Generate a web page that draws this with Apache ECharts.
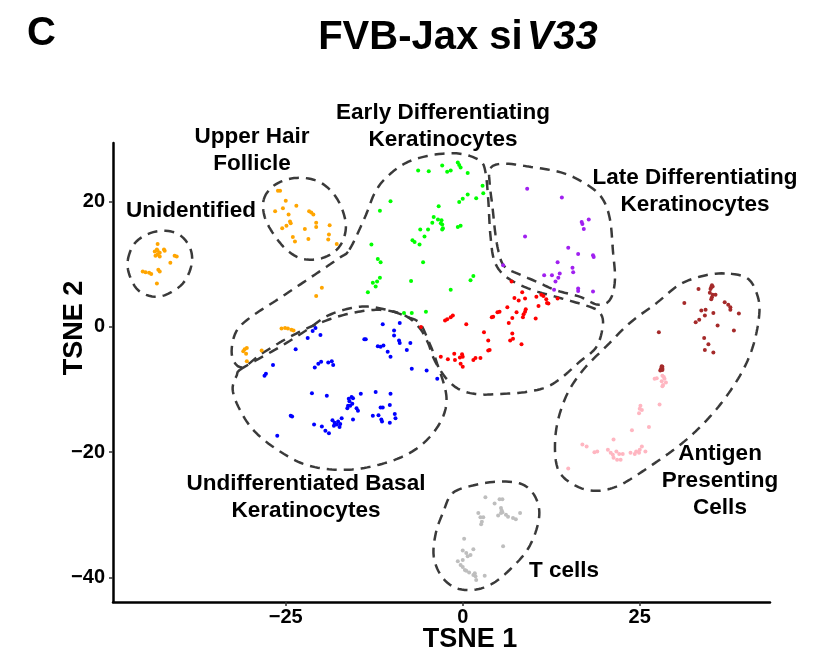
<!DOCTYPE html>
<html>
<head>
<meta charset="utf-8">
<script src="https://cdn.jsdelivr.net/npm/echarts@6/dist/echarts.min.js"></script>
<style>
  html, body { margin: 0; padding: 0; background: #ffffff; }
  #chart { width: 825px; height: 662px; }
</style>
</head>
<body>
<div id="chart"></div>
<script>
// ---- axis ticks ----
const xTicks = [-25, 0, 25];
const yTicks = [-40, -20, 0, 20];

// ---- cell embeddings (TSNE 1, TSNE 2) per cluster ----
const unidentified = [
  [-43.1, 13.2], [-43.2, 12.3], [-43.5, 12.0], [-43.1, 12.1], [-42.8, 11.8], [-42.2, 12.3],
  [-42.1, 12.1], [-43.4, 11.3], [-43.1, 11.5], [-42.8, 11.2], [-40.7, 11.3], [-40.4, 11.2],
  [-41.3, 10.2], [-45.2, 8.8], [-44.8, 8.7], [-44.3, 8.6], [-44.0, 8.4], [-43.0, 9.1],
  [-42.8, 8.8], [-43.2, 6.9]
];
const upperHairFollicle = [
  [-26.1, 21.7], [-25.8, 21.7], [-25.0, 20.1], [-25.4, 18.9], [-26.5, 18.4], [-23.5, 19.3],
  [-24.6, 17.9], [-21.7, 18.4], [-21.4, 18.2], [-21.1, 17.9], [-24.4, 16.8], [-24.3, 16.5],
  [-24.9, 16.1], [-25.5, 15.7], [-20.7, 16.6], [-20.7, 15.9], [-22.3, 15.6], [-18.8, 16.2],
  [-24.0, 14.3], [-23.7, 13.6], [-21.8, 14.0], [-18.9, 14.7], [-19.0, 13.9], [-17.8, 13.2],
  [-19.9, 6.2], [-20.7, 4.9],
  [-25.6, -0.3], [-25.1, -0.2], [-24.7, -0.3], [-24.2, -0.5], [-23.9, -0.6],
  [-30.8, -3.6], [-30.5, -3.4], [-31.0, -3.9], [-30.6, -4.3], [-28.4, -3.8], [-30.5, -5.5]
];
const earlyDiff = [
  [-6.3, 24.9], [-4.8, 24.8], [-2.9, 25.7], [-2.2, 24.7], [-1.7, 24.9], [-0.7, 26.2],
  [-0.5, 25.8], [-0.3, 25.4], [0.7, 24.5], [2.8, 22.5], [2.9, 21.3], [1.9, 20.5],
  [0.7, 21.1], [0.0, 20.4], [-0.5, 19.9], [-10.2, 20.0], [-11.7, 18.5], [-3.4, 19.2],
  [-4.1, 17.5], [-3.5, 17.1], [-3.0, 17.0], [-3.1, 16.5], [-2.9, 16.3], [-4.3, 16.6],
  [-2.8, 15.7], [-2.9, 15.5], [-4.9, 15.5], [-6.0, 15.5], [-0.7, 15.9], [-0.3, 16.1],
  [-5.4, 14.4], [-7.1, 13.8], [-6.8, 13.5], [-6.1, 13.1], [-12.9, 13.1], [-12.0, 10.8],
  [-11.6, 10.3], [-5.6, 10.3], [1.5, 8.1], [1.1, 7.4], [-11.7, 7.8], [-12.1, 7.2],
  [-12.7, 7.0], [-12.3, 6.4], [-13.4, 5.5], [-7.3, 7.3], [-1.7, 5.9], [-8.3, 2.2],
  [-7.2, 2.2], [-5.2, 2.4]
];
const lateDiff = [
  [9.1, 22.0], [14.0, 20.6], [16.8, 16.7], [16.9, 16.4], [17.8, 17.1], [17.1, 15.6],
  [8.8, 14.4], [14.9, 12.6], [16.3, 11.6], [18.4, 11.4], [18.5, 11.1], [13.4, 10.3],
  [15.5, 9.4], [15.6, 8.7], [5.7, 9.8], [11.5, 8.2], [12.6, 8.2], [13.7, 8.5],
  [13.5, 7.8], [13.1, 7.2], [16.3, 6.1], [16.3, 5.7], [18.4, 5.6], [12.9, 5.9]
];
const midDiff = [
  [6.9, 7.2], [8.4, 5.5], [7.3, 4.6], [7.9, 4.2], [8.8, 4.5], [10.4, 4.8], [11.1, 5.1],
  [11.4, 4.9], [11.8, 4.4], [11.9, 3.8], [12.1, 3.7], [13.4, 4.5], [10.7, 3.3], [6.3, 3.1],
  [5.2, 2.4], [4.9, 2.3], [4.3, 1.6], [4.1, 1.5], [7.6, 2.3], [8.9, 2.8], [8.8, 2.4],
  [8.6, 2.0], [8.5, 1.5], [7.0, 1.4], [10.3, 1.3], [6.5, 0.6], [-1.4, 1.8], [-1.7, 1.5],
  [-2.2, 1.2], [-2.5, 1.0], [0.5, 0.4], [-5.9, -0.05], [3.0, -0.9], [7.0, -1.1], [7.1, -1.9],
  [6.7, -2.2], [3.6, -2.2], [8.3, -2.8], [3.8, -3.7], [3.6, -3.8], [-3.1, -4.8], [-2.1, -5.2],
  [-1.2, -4.3], [-1.1, -5.3], [-0.4, -4.9], [-0.1, -4.4], [0.0, -4.8], [-0.3, -5.9],
  [0.0, -6.4], [1.5, -5.3], [1.8, -5.0], [2.5, -5.0]
];
const basal = [
  [-11.3, 0.4], [-8.9, 0.6], [-9.7, -0.6], [-9.7, -1.4], [-9.0, -2.2], [-8.9, -2.6],
  [-7.4, -2.6], [-13.9, -2.0], [-13.7, -2.0], [-12.0, -3.1], [-11.6, -3.2], [-11.2, -3.0],
  [-10.6, -4.0], [-10.2, -4.8], [-7.9, -3.7], [-7.2, -6.7], [-5.1, -7.0], [-3.6, -8.3],
  [-21.2, -0.7], [-20.8, -0.2], [-21.9, -1.8], [-20.1, -1.3], [-23.6, -3.6], [-26.8, -6.1],
  [-27.8, -7.5], [-28.0, -7.8], [-20.9, -6.5], [-20.4, -5.9], [-20.0, -5.6], [-19.0, -5.7],
  [-18.5, -5.5], [-18.3, -6.1], [-21.3, -10.6], [-19.2, -11.0], [-16.1, -11.5], [-15.7, -11.2],
  [-15.5, -11.4], [-16.0, -11.9], [-16.2, -12.6], [-16.3, -13.0], [-15.9, -12.6], [-15.6, -12.3],
  [-14.4, -10.7], [-12.3, -10.4], [-10.2, -10.7], [-10.3, -12.5], [-11.6, -12.9], [-11.3, -12.9],
  [-15.0, -13.0], [-14.8, -13.4], [-12.7, -14.2], [-11.9, -14.1], [-11.5, -14.8], [-11.4, -15.1],
  [-10.3, -15.3], [-9.6, -13.9], [-9.5, -14.6], [-15.5, -14.8], [-17.1, -14.6], [-18.4, -14.9],
  [-18.1, -15.3], [-17.8, -15.6], [-18.2, -15.8], [-17.6, -15.1], [-17.3, -15.5], [-17.4, -16.0],
  [-19.9, -15.9], [-19.4, -16.6], [-18.9, -17.0], [-21.0, -15.6], [-24.3, -14.2], [-24.1, -14.3],
  [-26.2, -17.4]
];
const apcDark = [
  [35.2, 6.6], [35.1, 6.3], [35.0, 6.0], [35.3, 6.4], [33.3, 6.0], [34.9, 5.4], [35.3, 5.1],
  [35.7, 5.1], [35.1, 4.4], [35.2, 4.7], [31.3, 3.8], [37.0, 3.9], [37.5, 3.5], [37.8, 3.1],
  [37.8, 2.7], [39.0, 2.1], [33.7, 2.6], [34.3, 2.7], [34.2, 1.8], [35.4, 2.2], [33.4, 1.1],
  [32.9, 0.7], [36.0, 0.2], [38.3, -0.6], [27.7, -0.9], [34.1, -1.8], [34.7, -2.8], [34.2, -3.7],
  [35.4, -4.1], [28.1, -6.3], [28.2, -6.7], [27.9, -7.0], [28.2, -6.9], [28.0, -6.7], [28.2, -6.4]
];
const apcLight = [
  [27.1, -8.3], [27.4, -8.2], [28.2, -7.8], [28.4, -8.0], [28.5, -8.3], [28.7, -8.9], [28.3, -9.3],
  [28.2, -9.5], [28.1, -8.7], [27.8, -12.4], [25.1, -12.6], [25.0, -13.1], [25.3, -13.3],
  [24.9, -13.8], [26.3, -16.0], [23.9, -16.5], [21.3, -18.0], [16.9, -18.8], [17.5, -19.1],
  [18.6, -20.0], [19.0, -19.9], [20.5, -19.6], [20.9, -20.1], [21.2, -20.4], [21.7, -19.9],
  [22.1, -20.3], [22.6, -20.3], [21.3, -20.9], [21.8, -21.2], [22.3, -21.2], [23.7, -20.1],
  [24.3, -20.3], [24.5, -19.9], [24.9, -20.1], [25.0, -19.6], [25.3, -19.1], [25.8, -19.9],
  [14.9, -22.6]
];
const tCells = [
  [3.2, -27.2], [4.5, -28.2], [5.2, -27.5], [5.6, -27.5], [5.4, -28.9], [5.5, -29.3], [5.6, -29.6],
  [5.4, -29.7], [2.2, -29.7], [2.5, -30.4], [2.9, -30.4], [2.7, -31.1], [2.6, -31.5], [5.0, -30.1],
  [6.1, -30.0], [6.4, -30.3], [7.1, -30.5], [7.5, -30.7], [8.1, -29.7], [0.2, -33.8], [5.7, -35.0],
  [0.0, -35.7], [0.5, -36.1], [1.1, -36.4], [1.5, -35.5], [0.7, -36.6], [-0.7, -37.4], [-0.3, -38.0],
  [0.0, -38.3], [0.3, -38.8], [0.5, -38.9], [0.0, -37.2], [0.9, -39.2], [1.5, -39.6], [1.8, -39.8],
  [1.7, -39.3], [1.9, -40.4], [3.1, -39.7]
];

// ---- cluster boundary control points (data units) ----
const hullUnidentified = [
  [-47.3, 10.7], [-46.1, 13.6], [-43.3, 15.2], [-40.4, 14.9], [-38.6, 12.8], [-38.3, 9.9],
  [-39.7, 6.7], [-42.8, 4.8], [-45.6, 5.6], [-47.0, 8.0]
];
const hullHair = [
  [-28.1, 20.3], [-26.8, 22.4], [-24.4, 23.6], [-21.6, 23.6], [-19.3, 22.4], [-17.4, 19.7],
  [-16.5, 16.0], [-17.4, 12.8], [-19.7, 11.0], [-22.6, 10.8], [-24.9, 12.3], [-26.8, 14.9],
  [-28.0, 17.6]
];
const hullEarly = [
  [-16.0, 12.3], [-13.8, 17.5], [-12.4, 21.4], [-10.7, 23.9], [-7.9, 26.2], [-4.2, 27.4],
  [-0.4, 27.6], [2.4, 26.5], [3.2, 24.7], [3.6, 20.3], [3.9, 14.7], [4.5, 10.4], [6.2, 7.9],
  [9.5, 6.0], [13.7, 4.6], [17.9, 3.2], [19.4, 2.2], [19.8, 0.3], [18.9, -3.2], [16.5, -5.6],
  [14.1, -8.0], [11.9, -9.6], [9.0, -10.4], [5.6, -10.7], [2.4, -10.8], [-0.1, -10.2],
  [-1.8, -8.9], [-3.2, -6.9], [-4.2, -4.8], [-4.9, -2.6], [-6.1, -0.2], [-8.2, 1.8],
  [-11.7, 2.7], [-16.0, 2.1], [-20.2, 0.6], [-24.4, -1.6], [-28.4, -4.3], [-31.2, -6.5],
  [-32.6, -4.6], [-32.1, -1.0], [-30.1, 1.4], [-25.8, 4.6], [-20.9, 8.3], [-17.4, 11.0]
];
const hullLate = [
  [3.9, 25.3], [5.7, 26.0], [9.0, 25.6], [14.2, 24.5], [17.9, 22.4], [19.8, 20.3], [20.8, 17.1],
  [21.2, 12.3], [21.5, 7.5], [20.8, 4.3], [19.1, 3.5], [16.5, 4.8], [13.2, 5.8], [10.4, 7.2],
  [8.1, 8.3], [5.9, 9.6], [5.1, 11.8], [4.6, 14.9], [4.2, 19.1], [3.8, 22.9]
];
const hullBasal = [
  [-31.5, -6.9], [-29.1, -5.3], [-25.8, -3.2], [-22.0, -0.5], [-18.8, 1.9], [-14.5, 3.2],
  [-10.7, 2.7], [-7.9, 1.6], [-6.1, 0.6], [-4.9, -2.1], [-3.7, -5.6], [-2.3, -11.2],
  [-3.2, -15.3], [-6.1, -19.1], [-10.3, -21.5], [-16.0, -22.8], [-21.6, -22.2], [-25.8, -19.9],
  [-29.4, -16.7], [-31.5, -13.2], [-32.5, -10.0], [-31.9, -7.7]
];
const hullApc = [
  [37.0, 8.5], [33.9, 8.1], [30.6, 6.7], [27.4, 3.8], [23.6, 0.6], [20.3, -3.1], [17.0, -6.9],
  [14.6, -11.1], [13.2, -16.4], [13.2, -21.7], [14.6, -24.4], [17.9, -26.1], [21.7, -25.5],
  [26.4, -22.3], [31.6, -18.0], [35.8, -13.2], [39.1, -7.9], [41.0, -3.1], [41.9, 2.2],
  [41.5, 5.4], [40.1, 7.8]
];
const hullT = [
  [-1.4, -26.5], [1.9, -25.2], [5.2, -24.7], [8.1, -25.0], [9.9, -26.5], [10.8, -29.2],
  [10.4, -32.4], [9.0, -35.8], [6.6, -38.8], [4.3, -40.9], [1.9, -41.9], [-0.9, -41.7],
  [-3.0, -39.8], [-4.1, -36.6], [-3.8, -32.9], [-2.8, -29.7]
];

// Closed Catmull-Rom curve through boundary control points
function closedCurve(pts, steps) {
  const n = pts.length, out = [];
  for (let i = 0; i < n; i++) {
    const p0 = pts[(i - 1 + n) % n], p1 = pts[i], p2 = pts[(i + 1) % n], p3 = pts[(i + 2) % n];
    for (let s = 0; s < steps; s++) {
      const t = s / steps, t2 = t * t, t3 = t2 * t;
      const f = k => 0.5 * ((2 * p1[k]) + (-p0[k] + p2[k]) * t +
        (2 * p0[k] - 5 * p1[k] + 4 * p2[k] - p3[k]) * t2 +
        (-p0[k] + 3 * p1[k] - 3 * p2[k] + p3[k]) * t3);
      out.push([f(0), f(1)]);
    }
  }
  out.push(out[0]);
  return out;
}

const FONT = '"Liberation Sans", Arial, Helvetica, sans-serif';

const clusters = [
  { name: 'Unidentified', data: unidentified, color: '#FFA500' },
  { name: 'Upper Hair Follicle', data: upperHairFollicle, color: '#FFA500' },
  { name: 'Early Differentiating', data: earlyDiff, color: '#00FF00' },
  { name: 'Late Differentiating', data: lateDiff, color: '#A020F0' },
  { name: 'Differentiating', data: midDiff, color: '#FF0000' },
  { name: 'Undifferentiated Basal', data: basal, color: '#0000FF' },
  { name: 'APC dark', data: apcDark, color: '#A52A2A' },
  { name: 'APC light', data: apcLight, color: '#FFB6C1' },
  { name: 'T cells', data: tCells, color: '#BEBEBE' }
];

const hulls = [hullUnidentified, hullHair, hullEarly, hullLate, hullBasal, hullApc, hullT];

const series = [];
hulls.forEach((h, i) => {
  series.push({
    name: 'hull' + i,
    type: 'line',
    data: closedCurve(h, 14),
    showSymbol: false,
    silent: true,
    smooth: false,
    z: 1,
    lineStyle: { color: '#3a3a3a', width: 2.5, type: [10, 7] }
  });
});
clusters.forEach(c => {
  series.push({
    name: c.name,
    type: 'scatter',
    data: c.data,
    symbolSize: 4,
    z: 3,
    itemStyle: { color: c.color, opacity: 1 }
  });
});

function textItem(text, x, y, size, rotation) {
  return {
    type: 'text',
    x: x, y: y,
    rotation: rotation || 0,
    style: {
      text: text,
      fill: '#000',
      font: 'bold ' + size + 'px ' + FONT,
      align: 'center',
      verticalAlign: 'middle',
      lineHeight: 27
    },
    z: 10
  };
}

const tickFmt = v => (v < 0 ? '\u2212' + Math.abs(v) : String(v));

const chart = echarts.init(document.getElementById('chart'), null, { renderer: 'canvas' });
chart.setOption({
  animation: false,
  backgroundColor: '#ffffff',
  title: [
    {
      text: '{a|FVB-Jax si}{b|V33}',
      left: 453, top: 13, textAlign: 'center',
      textStyle: {
        rich: {
          a: { fontFamily: FONT, fontWeight: 'bold', fontSize: 40, color: '#000' },
          b: { fontFamily: FONT, fontWeight: 'bold', fontStyle: 'italic', fontSize: 40, color: '#000', padding: [0, 0, 0, 4] }
        }
      }
    },
    {
      text: 'C', left: 22, top: 9,
      textStyle: { fontFamily: FONT, fontWeight: 'bold', fontSize: 40, color: '#000' }
    }
  ],
  grid: { left: 113, right: 55, top: 143, bottom: 60, containLabel: false },
  xAxis: {
    type: 'value', min: -49.4, max: 43.4,
    splitLine: { show: false },
    axisLine: { show: true, onZero: false, lineStyle: { color: '#000', width: 2.5 } },
    axisTick: { show: true, customValues: xTicks, length: 4, lineStyle: { color: '#333', width: 1.5 } },
    axisLabel: { customValues: xTicks, color: '#000', fontFamily: FONT, fontWeight: 'bold', fontSize: 20, margin: 5,
      formatter: tickFmt }
  },
  yAxis: {
    type: 'value', min: -43.9, max: 29.3,
    splitLine: { show: false },
    axisLine: { show: true, onZero: false, lineStyle: { color: '#000', width: 2.5 } },
    axisTick: { show: true, customValues: yTicks, length: 4, lineStyle: { color: '#333', width: 1.5 } },
    axisLabel: { customValues: yTicks, color: '#000', fontFamily: FONT, fontWeight: 'bold', fontSize: 20, margin: 8,
      formatter: tickFmt }
  },
  series: series,
  graphic: [
    textItem('TSNE 1', 470, 640, 27),
    textItem('TSNE 2', 75, 328, 27, Math.PI / 2),
    textItem('Upper Hair\nFollicle', 252, 150, 22.5),
    textItem('Unidentified', 191, 211, 22.5),
    textItem('Early Differentiating\nKeratinocytes', 443, 126, 22.5),
    textItem('Late Differentiating\nKeratinocytes', 695, 191, 22.5),
    textItem('Antigen\nPresenting\nCells', 720, 481, 22.5),
    textItem('Undifferentiated Basal\nKeratinocytes', 306, 497, 22.5),
    textItem('T cells', 564, 571, 22.5)
  ]
});
</script>
</body>
</html>
